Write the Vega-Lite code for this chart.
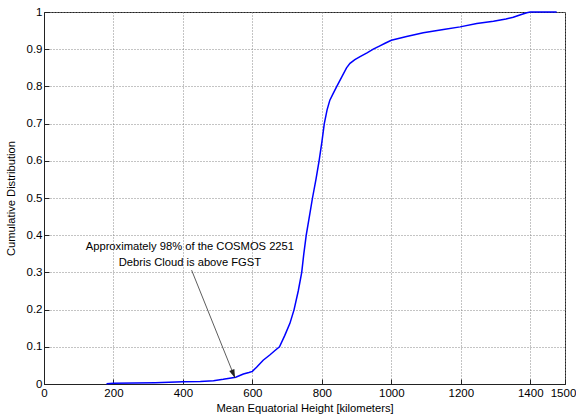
{
  "$schema": "https://vega.github.io/schema/vega-lite/v6.json",
  "width": 521,
  "height": 372,
  "autosize": {"type": "none"},
  "padding": {"left": 44, "top": 12, "right": 11, "bottom": 35},
  "background": "white",
  "config": {
    "font": "Liberation Sans Narrow, Liberation Sans, Arial",
    "view": {"stroke": "#222222", "strokeWidth": 1},
    "axis": {
      "domainColor": "#222222",
      "tickColor": "#222222",
      "gridColor": "#888888",
      "gridDash": [1, 2],
      "gridOpacity": 1,
      "labelFont": "Liberation Sans Narrow, Liberation Sans, Arial",
      "titleFont": "Liberation Sans Narrow, Liberation Sans, Arial",
      "labelFontSize": 11.5,
      "titleFontSize": 11.2,
      "labelColor": "#000000",
      "titleColor": "#000000",
      "titleFontWeight": "normal",
      "tickSize": -5,
      "labelOverlap": false,
      "labelFlush": false
    }
  },
  "datasets": {
    "cdf": [
      {"height": 180, "cdf": 0.001},
      {"height": 200, "cdf": 0.002},
      {"height": 260, "cdf": 0.003},
      {"height": 320, "cdf": 0.0036},
      {"height": 400, "cdf": 0.006},
      {"height": 450, "cdf": 0.007},
      {"height": 488, "cdf": 0.009},
      {"height": 516, "cdf": 0.0126},
      {"height": 530, "cdf": 0.015},
      {"height": 552, "cdf": 0.018},
      {"height": 574, "cdf": 0.027},
      {"height": 590, "cdf": 0.031},
      {"height": 600, "cdf": 0.034},
      {"height": 612, "cdf": 0.045},
      {"height": 631, "cdf": 0.064},
      {"height": 650, "cdf": 0.078},
      {"height": 665, "cdf": 0.09},
      {"height": 678, "cdf": 0.1},
      {"height": 693, "cdf": 0.13},
      {"height": 708, "cdf": 0.163},
      {"height": 720, "cdf": 0.2},
      {"height": 732, "cdf": 0.25},
      {"height": 742, "cdf": 0.3},
      {"height": 748, "cdf": 0.35},
      {"height": 755, "cdf": 0.4},
      {"height": 764, "cdf": 0.45},
      {"height": 773, "cdf": 0.5},
      {"height": 783, "cdf": 0.55},
      {"height": 792, "cdf": 0.6},
      {"height": 800, "cdf": 0.65},
      {"height": 807, "cdf": 0.7},
      {"height": 815, "cdf": 0.737},
      {"height": 823, "cdf": 0.763},
      {"height": 832, "cdf": 0.78},
      {"height": 843, "cdf": 0.8},
      {"height": 857, "cdf": 0.825},
      {"height": 871, "cdf": 0.85},
      {"height": 881, "cdf": 0.862},
      {"height": 895, "cdf": 0.872},
      {"height": 910, "cdf": 0.88},
      {"height": 930, "cdf": 0.89},
      {"height": 948, "cdf": 0.9},
      {"height": 967, "cdf": 0.909},
      {"height": 982, "cdf": 0.916},
      {"height": 1000, "cdf": 0.924},
      {"height": 1044, "cdf": 0.934},
      {"height": 1092, "cdf": 0.944},
      {"height": 1150, "cdf": 0.953},
      {"height": 1198, "cdf": 0.96},
      {"height": 1246, "cdf": 0.969},
      {"height": 1294, "cdf": 0.975},
      {"height": 1330, "cdf": 0.981},
      {"height": 1351, "cdf": 0.986},
      {"height": 1370, "cdf": 0.992},
      {"height": 1390, "cdf": 0.998},
      {"height": 1400, "cdf": 1.0},
      {"height": 1476, "cdf": 1.0}
    ],
    "notes": [
      {"x": 420, "y": 0.369, "label": "Approximately 98% of the COSMOS 2251"},
      {"x": 420, "y": 0.326, "label": "Debris Cloud is above FGST"}
    ],
    "arrow": [
      {"x1": 425, "y1": 0.306, "x2": 550, "y2": 0.016}
    ]
  },
  "layer": [
    {
      "data": {"name": "cdf"},
      "mark": {"type": "line", "color": "#0000ff", "strokeWidth": 1.5},
      "encoding": {
        "x": {
          "field": "height",
          "type": "quantitative",
          "scale": {"domain": [0, 1500], "nice": false, "zero": false},
          "axis": {
            "title": "Mean Equatorial Height [kilometers]",
            "values": [0, 200, 400, 600, 800, 1000, 1200, 1400, 1500],
            "tickCount": 20,
            "format": "d",
            "labelPadding": 8,
            "labelOffset": {"condition": {"test": "datum.value == 1500", "value": -2}, "value": 0},
            "titleBaseline": "alphabetic",
            "titleY": 27.5
          }
        },
        "y": {
          "field": "cdf",
          "type": "quantitative",
          "scale": {"domain": [0, 1], "nice": false},
          "axis": {
            "title": "Cumulative Distribution",
            "values": [0, 0.1, 0.2, 0.3, 0.4, 0.5, 0.6, 0.7, 0.8, 0.9, 1],
            "tickCount": 20,
            "format": ".1~f",
            "labelPadding": 7,
            "titleBaseline": "alphabetic",
            "titleX": -29.5
          }
        }
      }
    },
    {
      "data": {"name": "arrow"},
      "mark": {"type": "rule", "color": "#333333", "strokeWidth": 0.8},
      "encoding": {
        "x": {"field": "x1", "type": "quantitative"},
        "y": {"field": "y1", "type": "quantitative"},
        "x2": {"field": "x2"},
        "y2": {"field": "y2"}
      }
    },
    {
      "data": {"name": "arrow"},
      "mark": {"type": "point", "shape": "M0,0L-0.32,-1L0.32,-1Z", "filled": true, "color": "#222222", "opacity": 1, "size": 300, "angle": 338},
      "encoding": {
        "x": {"field": "x2", "type": "quantitative"},
        "y": {"field": "y2", "type": "quantitative"}
      }
    },
    {
      "data": {"name": "notes"},
      "mark": {"type": "text", "fontSize": 11.2, "align": "center", "baseline": "middle", "color": "#000000", "font": "Liberation Sans Narrow, Liberation Sans, Arial"},
      "encoding": {
        "x": {"field": "x", "type": "quantitative"},
        "y": {"field": "y", "type": "quantitative"},
        "text": {"field": "label"}
      }
    }
  ]
}
